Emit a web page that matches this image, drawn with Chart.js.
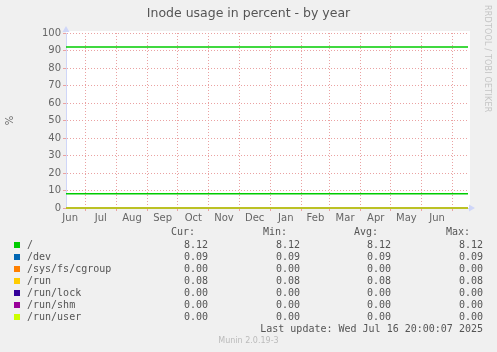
<!DOCTYPE html>
<html><head><meta charset="utf-8">
<script src="https://cdn.jsdelivr.net/npm/chart.js@4/dist/chart.umd.min.js"></script>
<style>
html,body{margin:0;padding:0;background:#f0f0f0;}
#wrap{position:relative;width:497px;height:352px;overflow:hidden;background:#f0f0f0;}
#c{position:absolute;left:0;top:0;}
.t{position:absolute;font-family:'DejaVu Sans Mono',monospace;font-size:10px;line-height:12px;color:#555;white-space:pre;}
.r{text-align:right;}
.sw{position:absolute;width:6px;height:6px;}
#rrd{position:absolute;left:483px;top:5px;writing-mode:vertical-rl;font-family:'DejaVu Sans',sans-serif;font-size:8px;color:#c4c4c4;white-space:nowrap;letter-spacing:0.2px;}
#munin{position:absolute;left:0;width:497px;top:336px;text-align:center;font-family:'DejaVu Sans',sans-serif;font-size:8px;line-height:10px;color:#bbb;}
</style></head>
<body><div id="wrap"><canvas id="c" width="497" height="352"></canvas><div id="rrd">RRDTOOL / TOBI OETIKER</div><div id="munin">Munin 2.0.19-3</div></div>
<script>
// ---- data ----
const chartTitle = 'Inode usage in percent - by year';
const yAxisLabel = '%';
const yTicks = [0, 10, 20, 30, 40, 50, 60, 70, 80, 90, 100];
const monthStarts = ['2024-06-01','2024-07-01','2024-08-01','2024-09-01','2024-10-01','2024-11-01','2024-12-01','2025-01-01','2025-02-01','2025-03-01','2025-04-01','2025-05-01','2025-06-01','2025-07-01'];
const monthLabels = ['Jun','Jul','Aug','Sep','Oct','Nov','Dec','Jan','Feb','Mar','Apr','May','Jun'];
const lastUpdate = '2025-07-16T20:00:07Z';
const periodDays = 400;
const sampleDates = ['2024-06-11T20:00:07Z', '2025-07-16T20:00:07Z'];
const seriesNames = ['/', '/dev', '/sys/fs/cgroup', '/run', '/run/lock', '/run/shm', '/run/user'];
const seriesColors = ['#00cc00', '#0066b3', '#ff8000', '#ffcc00', '#330099', '#990099', '#ccff00'];
const rootValues = [8.12, 8.12];
const devValues = [0.09, 0.09];
const cgroupValues = [0.00, 0.00];
const runValues = [0.08, 0.08];
const runLockValues = [0.00, 0.00];
const runShmValues = [0.00, 0.00];
const runUserValues = [0.00, 0.00];
const warningLevel = [92, 92];
const curValues = [8.12, 0.09, 0.00, 0.08, 0.00, 0.00, 0.00];
const minValues = [8.12, 0.09, 0.00, 0.08, 0.00, 0.00, 0.00];
const avgValues = [8.12, 0.09, 0.00, 0.08, 0.00, 0.00, 0.00];
const maxValues = [8.12, 0.09, 0.00, 0.08, 0.00, 0.00, 0.00];
const footerText = 'Last update: Wed Jul 16 20:00:07 2025';

// ---- helpers ----
const DAY = 86400000;
const endT = Date.parse(lastUpdate);
const startT = endT - periodDays * DAY;
const toDay = s => (Date.parse(s.length === 10 ? s + 'T00:00:00Z' : s) - startT) / DAY;
const boundaryDays = monthStarts.map(toDay);
const labelDays = monthLabels.map((_, i) => (boundaryDays[i] + boundaryDays[i + 1]) / 2);
const tickDefs = [];
boundaryDays.forEach(d => { if (d >= 0 && d <= periodDays) tickDefs.push({ value: d, label: '', major: true }); });
labelDays.forEach((d, i) => { if (d >= 0 && d <= periodDays) tickDefs.push({ value: d, label: monthLabels[i], major: false }); });
tickDefs.sort((a, b) => a.value - b.value);

const allSeries = [rootValues, devValues, cgroupValues, runValues, runLockValues, runShmValues, runUserValues];
const sampleX = sampleDates.map(toDay);
const pts = vals => vals.map((v, i) => ({ x: sampleX[i], y: v }));

const datasets = allSeries.map((vals, i) => ({
  label: seriesNames[i], data: pts(vals), borderColor: seriesColors[i], backgroundColor: seriesColors[i],
  borderWidth: 1.5, pointRadius: 0, tension: 0, clip: 3, order: 10 - i
}));
datasets.push({ label: 'warning', data: pts(warningLevel), borderColor: '#00cc00', borderWidth: 1.5, pointRadius: 0, clip: 3, order: 20 });

const RED = '#eaa2a2', GRAY = '#d2d2d2', AXIS = '#cfd6f8', FONT = '#666666';

const bgPlugin = {
  id: 'bg',
  beforeDraw(chart) {
    const a = chart.chartArea, ctx = chart.ctx;
    ctx.save(); ctx.fillStyle = '#ffffff';
    ctx.fillRect(a.left, a.top - 2, a.right - a.left + 2, a.bottom - a.top + 2);
    ctx.restore();
  },
  afterDraw(chart) {
    const a = chart.chartArea, ctx = chart.ctx;
    ctx.save(); ctx.fillStyle = AXIS;
    ctx.beginPath(); ctx.moveTo(a.left - 3.5, a.top - 1); ctx.lineTo(a.left + 3.5, a.top - 1); ctx.lineTo(a.left, a.top - 7); ctx.closePath(); ctx.fill();
    ctx.beginPath(); ctx.moveTo(a.right + 1, a.bottom - 3.5); ctx.lineTo(a.right + 1, a.bottom + 3.5); ctx.lineTo(a.right + 7, a.bottom); ctx.closePath(); ctx.fill();
    ctx.restore();
  }
};

new Chart(document.getElementById('c'), {
  type: 'line',
  data: { datasets },
  options: {
    responsive: false, animation: false, devicePixelRatio: 1,
    layout: { padding: { left: 0, right: 0, top: 0, bottom: 120 } },
    plugins: {
      legend: { display: false }, tooltip: { enabled: false },
      title: { display: true, text: chartTitle, color: '#555', font: { family: 'DejaVu Sans', size: 12.5, weight: 'normal' }, padding: { top: 6, bottom: 12 } }
    },
    scales: {
      x: {
        type: 'linear', min: 0, max: periodDays,
        afterBuildTicks: s => { s.ticks = tickDefs.map(t => ({ value: t.value })); },
        afterFit: s => { s.height = 24; },
        ticks: { autoSkip: false, maxRotation: 0, padding: 1, color: FONT, font: { family: 'DejaVu Sans', size: 10 },
          callback: (v, i) => tickDefs[i] ? tickDefs[i].label : '' },
        grid: { color: c => (tickDefs[c.index] && tickDefs[c.index].major) ? RED : 'rgba(0,0,0,0)',
          tickColor: c => (tickDefs[c.index] && tickDefs[c.index].major) ? RED : 'rgba(0,0,0,0)', tickLength: 3, lineWidth: 1 },
        border: { display: true, color: AXIS, width: 1, dash: [1, 2] }
      },
      y: {
        type: 'linear', min: 0, max: 100,
        afterBuildTicks: s => { const t = []; for (let k = 0; k < yTicks.length; k++) { t.push({ value: yTicks[k] }); if (k < yTicks.length - 1) t.push({ value: (yTicks[k] + yTicks[k + 1]) / 2 }); } s.ticks = t; },
        afterFit: s => { s.width = 66; },
        ticks: { padding: 2, color: FONT, font: { family: 'DejaVu Sans', size: 10 },
          callback: v => yTicks.includes(v) ? String(v) : '' },
        grid: { color: c => yTicks.includes(c.tick.value) ? RED : GRAY, tickColor: c => yTicks.includes(c.tick.value) ? RED : GRAY, tickLength: 3, lineWidth: 1 },
        border: { display: true, color: AXIS, width: 1, dash: [1, 2] },
        title: { display: true, text: yAxisLabel, color: FONT, font: { family: 'DejaVu Sans', size: 10 }, padding: { top: 4, bottom: 0 } }
      },
      yr: {
        type: 'linear', position: 'right', display: true,
        afterFit: s => { s.width = 29; },
        ticks: { display: false }, grid: { display: false, drawTicks: false }, border: { display: false }
      }
    }
  },
  plugins: [bgPlugin]
});

// ---- legend table ----
const wrap = document.getElementById('wrap');
function put(text, left, top, cls, right) {
  const d = document.createElement('div');
  d.className = 't' + (cls ? ' ' + cls : '');
  d.textContent = text;
  d.style.top = top + 'px';
  if (right !== undefined) { d.style.right = (497 - right) + 'px'; } else { d.style.left = left + 'px'; }
  wrap.appendChild(d);
}
const headers = ['Cur:', 'Min:', 'Avg:', 'Max:'];
const headerRight = [195, 287, 378, 470];
const valueRight = [208, 300, 391, 483];
headers.forEach((h, i) => put(h, 0, 226, 'r', headerRight[i]));
const cols = [curValues, minValues, avgValues, maxValues];
seriesNames.forEach((n, i) => {
  const top = 239 + 12 * i;
  const sw = document.createElement('div');
  sw.className = 'sw'; sw.style.left = '14px'; sw.style.top = (top + 3) + 'px'; sw.style.background = seriesColors[i];
  wrap.appendChild(sw);
  put(n, 27, top);
  cols.forEach((c, j) => put(c[i].toFixed(2), 0, top, 'r', valueRight[j]));
});
put(footerText, 0, 323, 'r', 483);
</script></body></html>
